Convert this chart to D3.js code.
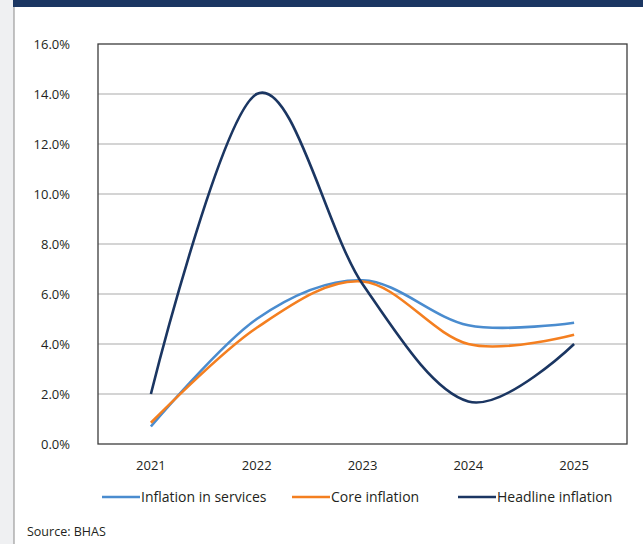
<!DOCTYPE html>
<html>
<head>
<meta charset="utf-8">
<script src="https://cdn.jsdelivr.net/npm/d3@7"></script>
<style>
  html, body { margin: 0; padding: 0; background: #ffffff; }
  svg { display: block; font-family: "Open Sans", "Noto Sans", sans-serif; }
</style>
</head>
<body>
<svg id="chart" width="643" height="544"></svg>
<script>
// Inflation indicators, annual rates (%)
const years = ["2021", "2022", "2023", "2024", "2025"];
const servicesInflation = [0.7, 5.0, 6.55, 4.75, 4.85];
const coreInflation = [0.85, 4.65, 6.5, 4.0, 4.37];
const headlineInflation = [2.0, 14.0, 6.4, 1.7, 4.0];
const yTicks = [0, 2, 4, 6, 8, 10, 12, 14, 16];
const seriesNames = ["Inflation in services", "Core inflation", "Headline inflation"];
const seriesColors = ["#4a8ccf", "#f47f20", "#1b3662"];

const series = [servicesInflation, coreInflation, headlineInflation].map((vals, i) => ({
  name: seriesNames[i],
  color: seriesColors[i],
  values: vals.map((v, j) => ({ year: years[j], value: v }))
}));

const svg = d3.select("#chart");
const W = 643, H = 544;

// Page frame: grey margin on the left, navy band on top
svg.append("rect").attr("x", 0).attr("y", 0).attr("width", 14).attr("height", H).attr("fill", "#eff0f2");
svg.append("line").attr("x1", 14).attr("x2", 14).attr("y1", 0).attr("y2", H)
  .attr("stroke", "#8a8a8a").attr("stroke-width", 1);
svg.append("rect").attr("x", 13).attr("y", 0).attr("width", W - 13).attr("height", 7).attr("fill", "#1b3662");

const plot = { left: 98, right: 627, top: 44, bottom: 444 };

const x = d3.scaleBand().domain(years).range([plot.left, plot.right]);
const y = d3.scaleLinear().domain([0, 16]).range([plot.bottom, plot.top]);
const cx = d => x(d) + x.bandwidth() / 2;

// Horizontal gridlines
svg.append("g")
  .selectAll("line")
  .data(yTicks.filter(t => t > 0 && t < 16))
  .join("line")
  .attr("x1", plot.left).attr("x2", plot.right)
  .attr("y1", d => y(d)).attr("y2", d => y(d))
  .attr("stroke", "#a9a9a9").attr("stroke-width", 1.2);

// Y axis labels
const yAxis = d3.axisLeft(y).tickValues(yTicks).tickFormat(d => d.toFixed(1) + "%").tickSize(0).tickPadding(28);
svg.append("g")
  .attr("transform", `translate(${plot.left},0)`)
  .call(yAxis)
  .call(g => g.select(".domain").remove())
  .call(g => g.selectAll("text").attr("font-size", 13).attr("fill", "#231f20")
    .attr("font-family", "'Open Sans', sans-serif"));

// X axis labels
const xAxis = d3.axisBottom(x).tickSize(0).tickPadding(17);
svg.append("g")
  .attr("transform", `translate(0,${plot.bottom})`)
  .call(xAxis)
  .call(g => g.select(".domain").remove())
  .call(g => g.selectAll("text").attr("font-size", 13).attr("fill", "#231f20")
    .attr("font-family", "'Open Sans', sans-serif"));

// Smoothed series lines
const line = d3.line()
  .x(d => cx(d.year))
  .y(d => y(d.value))
  .curve(d3.curveCardinal.tension(0));

svg.append("g")
  .selectAll("path")
  .data(series)
  .join("path")
  .attr("d", d => line(d.values))
  .attr("fill", "none")
  .attr("stroke", d => d.color)
  .attr("stroke-width", 2.6)
  .attr("stroke-linecap", "butt");

// Plot area border
svg.append("rect")
  .attr("x", plot.left).attr("y", plot.top)
  .attr("width", plot.right - plot.left).attr("height", plot.bottom - plot.top)
  .attr("fill", "none").attr("stroke", "#3c3c3c").attr("stroke-width", 1.3);

// Legend
const legendX = [102, 292, 458];
const legend = svg.append("g")
  .selectAll("g")
  .data(series)
  .join("g")
  .attr("transform", (d, i) => `translate(${legendX[i]},497)`);
legend.append("line")
  .attr("x1", 0).attr("x2", 38).attr("y1", 0).attr("y2", 0)
  .attr("stroke", d => d.color).attr("stroke-width", 2.6);
legend.append("text")
  .attr("x", 39).attr("y", 0).attr("dy", "0.36em")
  .attr("font-size", 14).attr("fill", "#231f20")
  .text(d => d.name);

// Source note
svg.append("text")
  .attr("x", 27).attr("y", 536)
  .attr("font-size", 12.5).attr("fill", "#231f20")
  .text("Source: BHAS");
</script>
</body>
</html>
